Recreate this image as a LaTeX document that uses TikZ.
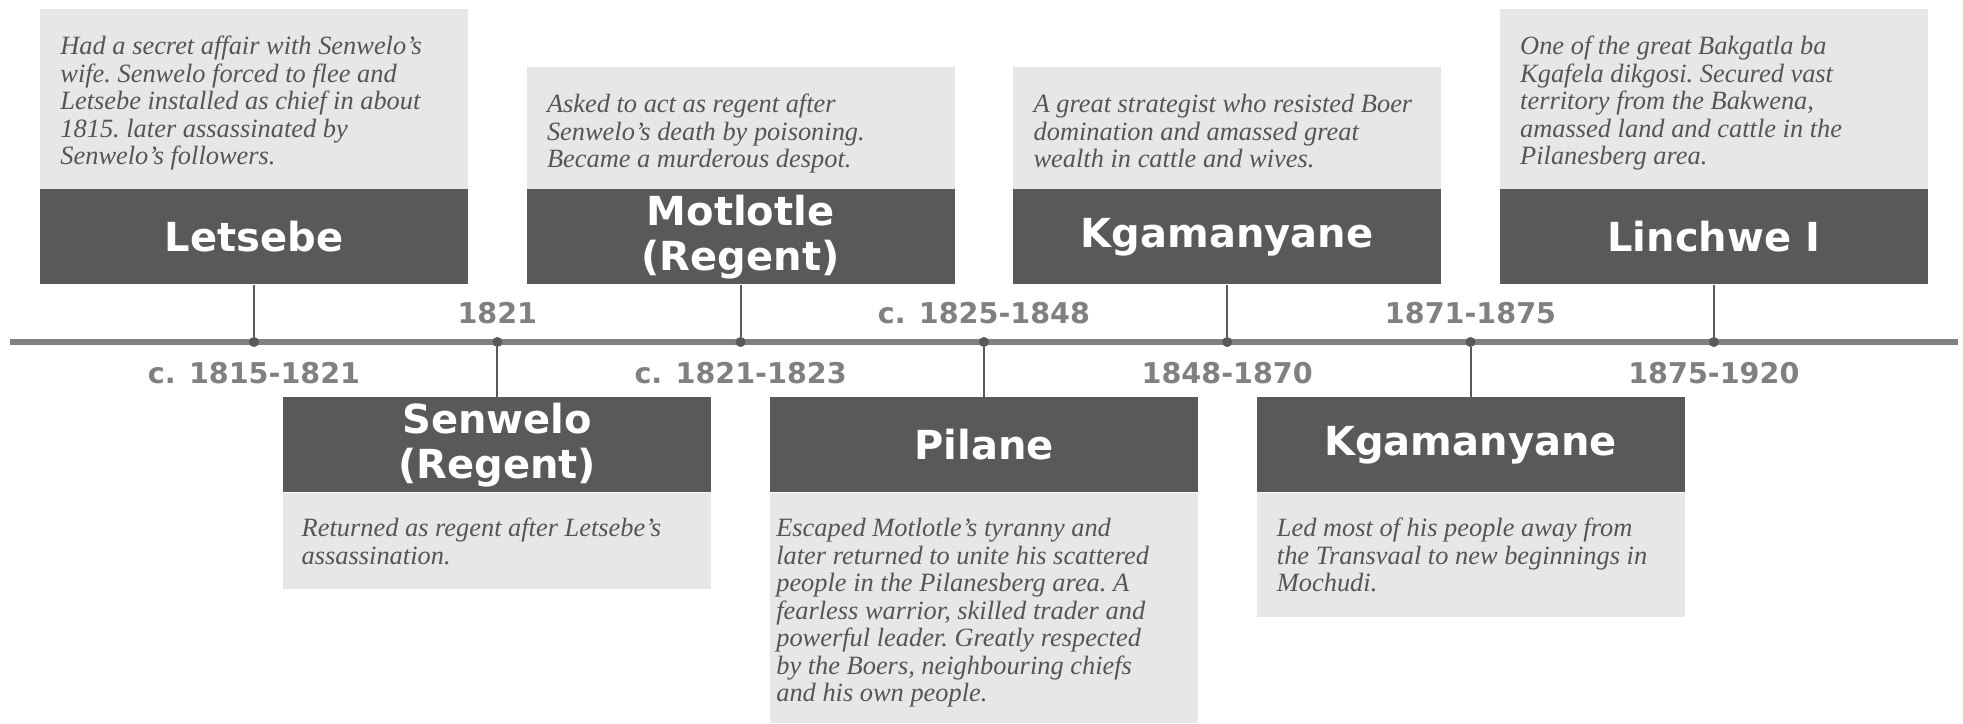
\documentclass[tikz,border=0pt]{standalone}
\usepackage{fontspec}
\setmainfont{Liberation Serif}
\newfontfamily\headfont{DejaVu Sans}
\newfontfamily\descfont{Liberation Serif}
\definecolor{slate}{HTML}{595959}
\definecolor{mist}{HTML}{E7E7E7}
\definecolor{rule}{HTML}{808080}
\definecolor{prose}{HTML}{555555}

\begin{document}
\begin{tikzpicture}[x=.5pt,y=.5pt,
 head/.style={fill=slate,text=white,font=\headfont\bfseries\fontsize{20}{22.5}\selectfont,
  align=center,inner sep=0pt,minimum width=214pt,minimum height=47.5pt},
 desc/.style={font=\descfont\itshape\fontsize{13.2}{13.75}\selectfont\frenchspacing,text=prose,
  align=left,anchor=north west,inner sep=0pt},
 date/.style={font=\headfont\bfseries\fontsize{14.3}{16}\selectfont,text=rule},
 dot/.style={circle,fill=slate,inner sep=0pt,minimum size=5pt},
 stem/.style={draw=slate,line width=1pt},
 axis/.style={draw=rule,line width=3pt}]
\path[use as bounding box] (0,0) rectangle (1963,723);
% time axis
\coordinate (axis-start) at (10,381);
\coordinate (axis-end) at (1958,381);
\draw[axis] (axis-start) -- (axis-end);
% cards above the axis, dates below it
\foreach \i/\name/\top/\pad/\when/\who/\txt in {
 0/letsebe/714/20/{c. 1815-1821}/{Letsebe}/{Had a secret affair with Senwelo’s\\wife. Senwelo forced to flee and\\Letsebe installed as chief in about\\1815. later assassinated by\\Senwelo’s followers.},
 2/motlotle/656/20/{c. 1821-1823}/{Motlotle\\(Regent)}/{Asked to act as regent after\\Senwelo’s death by poisoning.\\Became a murderous despot.},
 4/kgam1/656/20/{1848-1870}/{Kgamanyane}/{A great strategist who resisted Boer\\domination and amassed great\\wealth in cattle and wives.},
 6/linchwe/714/20/{1875-1920}/{Linchwe I}/{One of the great Bakgatla ba\\Kgafela dikgosi. Secured vast\\territory from the Bakwena,\\amassed land and cattle in the\\Pilanesberg area.}}{
 \pgfmathsetmacro{\x}{254+243.3*\i}
 \fill[mist] (\x-214,\top) rectangle (\x+214,532);
 \node[head] (\name-head) at (\x,486) {\who};
 \node[desc] (\name-desc) at (\x-214+\pad,\top-27) {\txt};
 \node[date] (\name-date) at (\x,350) {\when};
 \node[dot] (\name-dot) at (\x,381) {};
 \draw[stem] (\name-head) -- (\name-dot);
}
% cards below the axis, dates above it
\foreach \i/\name/\bot/\pad/\when/\who/\txt in {
 1/senwelo/134/18/{1821}/{Senwelo\\(Regent)}/{Returned as regent after Letsebe’s\\assassination.},
 3/pilane/0/6/{c. 1825-1848}/{Pilane}/{Escaped Motlotle’s tyranny and\\later returned to unite his scattered\\people in the Pilanesberg area. A\\fearless warrior, skilled trader and\\powerful leader. Greatly respected\\by the Boers, neighbouring chiefs\\and his own people.},
 5/kgam2/106/20/{1871-1875}/{Kgamanyane}/{Led most of his people away from\\the Transvaal to new beginnings in\\Mochudi.}}{
 \pgfmathsetmacro{\x}{254+243.3*\i}
 \fill[mist] (\x-214,230) rectangle (\x+214,\bot);
 \node[head] (\name-head) at (\x,278) {\who};
 \node[desc] (\name-desc) at (\x-214+\pad,205) {\txt};
 \node[date] (\name-date) at (\x,410) {\when};
 \node[dot] (\name-dot) at (\x,381) {};
 \draw[stem] (\name-dot) -- (\name-head);
}
\end{tikzpicture}
\end{document}
